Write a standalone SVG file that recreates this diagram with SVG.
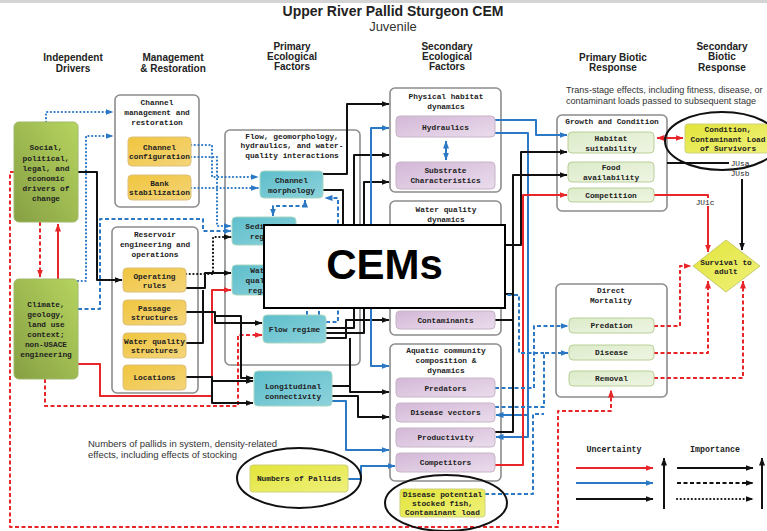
<svg xmlns="http://www.w3.org/2000/svg" width="767" height="531" viewBox="0 0 767 531">
<defs>
<linearGradient id="gG" x1="0" y1="1" x2="1" y2="0"><stop offset="0" stop-color="#86a043"/><stop offset="1" stop-color="#b6d45f"/></linearGradient>
<linearGradient id="gO" x1="0" y1="0" x2="1" y2="1"><stop offset="0" stop-color="#f0c53e"/><stop offset="1" stop-color="#f4d57a"/></linearGradient>
<linearGradient id="gT" x1="0" y1="0" x2="1" y2="1"><stop offset="0" stop-color="#5dbecb"/><stop offset="1" stop-color="#8dd2db"/></linearGradient>
<linearGradient id="gP" x1="0" y1="0" x2="1" y2="1"><stop offset="0" stop-color="#d3b8d7"/><stop offset="1" stop-color="#eadcec"/></linearGradient>
<linearGradient id="gL" x1="0" y1="0" x2="1" y2="1"><stop offset="0" stop-color="#dcebc9"/><stop offset="1" stop-color="#eef5e3"/></linearGradient>
<linearGradient id="gY" x1="0" y1="0" x2="1" y2="1"><stop offset="0" stop-color="#e2e43a"/><stop offset="1" stop-color="#eff17c"/></linearGradient>
<marker id="ak" viewBox="0 0 8 6" refX="7.5" refY="3" markerWidth="8" markerHeight="6" markerUnits="userSpaceOnUse" orient="auto-start-reverse"><path d="M0,0 L8,3 L0,6 z" fill="#111"/></marker>
<marker id="ab" viewBox="0 0 8 6" refX="7.5" refY="3" markerWidth="8" markerHeight="6" markerUnits="userSpaceOnUse" orient="auto-start-reverse"><path d="M0,0 L8,3 L0,6 z" fill="#2b78c5"/></marker>
<marker id="ar" viewBox="0 0 8 6" refX="7.5" refY="3" markerWidth="8" markerHeight="6" markerUnits="userSpaceOnUse" orient="auto-start-reverse"><path d="M0,0 L8,3 L0,6 z" fill="#e8262a"/></marker>
<style>
.c{fill:#fff;stroke:#8c8c8c;stroke-width:1.6}
.t{font-family:"Liberation Mono","DejaVu Sans Mono",monospace;font-size:7.8px;font-weight:bold;fill:#222;text-anchor:middle}
.h{font-family:"Liberation Sans",Arial,sans-serif;font-size:10px;font-weight:bold;fill:#222;text-anchor:middle}
.n{font-family:"Liberation Sans",Arial,sans-serif;font-size:9.5px;fill:#333}
.k{fill:none;stroke:#111;stroke-width:2;stroke-linejoin:round}
.b{fill:none;stroke:#2b78c5;stroke-width:2;stroke-linejoin:round}
.r{fill:none;stroke:#e8262a;stroke-width:2;stroke-linejoin:round}
.da{stroke-dasharray:4 2.5}
.do{stroke-dasharray:0.1 3.6;stroke-linecap:round;stroke-width:2.2}
.gr{fill:url(#gG);stroke:#9fb86a;stroke-width:1}
.or{fill:url(#gO);stroke:#dcc07a;stroke-width:1}
.te{fill:url(#gT);stroke:#a9d6c4;stroke-width:1}
.pu{fill:url(#gP);stroke:#c7b4c8;stroke-width:1}
.lg{fill:url(#gL);stroke:#b9cf98;stroke-width:1}
.ye{fill:url(#gY);stroke:#cfd27a;stroke-width:1}
.el{fill:none;stroke:#111;stroke-width:2}
</style>
</defs>
<rect width="767" height="531" fill="#fff"/>
<rect width="767" height="3" fill="#d4d4d4"/>

<!-- titles -->
<text x="393" y="16" style="font-family:'Liberation Sans',Arial,sans-serif;font-size:14px;font-weight:bold;fill:#222" text-anchor="middle">Upper River Pallid Sturgeon CEM</text>
<text x="393" y="31" style="font-family:'Liberation Sans',Arial,sans-serif;font-size:13px;fill:#333" text-anchor="middle">Juvenile</text>
<text class="h" x="73" y="61">Independent</text><text class="h" x="73" y="72">Drivers</text>
<text class="h" x="173" y="61">Management</text><text class="h" x="173" y="72">&amp; Restoration</text>
<text class="h" x="292" y="50">Primary</text><text class="h" x="292" y="60">Ecological</text><text class="h" x="292" y="70">Factors</text>
<text class="h" x="447" y="50">Secondary</text><text class="h" x="447" y="60">Ecological</text><text class="h" x="447" y="70">Factors</text>
<text class="h" x="613" y="61">Primary Biotic</text><text class="h" x="613" y="71">Response</text>
<text class="h" x="722" y="50">Secondary</text><text class="h" x="722" y="60">Biotic</text><text class="h" x="722" y="71">Response</text>
<text class="n" x="566" y="93" style="font-size:9.1px">Trans-stage effects, including fitness, disease, or</text>
<text class="n" x="566" y="104" style="font-size:9.1px">contaminant loads passed to subsequent stage</text>
<text class="n" x="88" y="447">Numbers of pallids in system, density-related</text>
<text class="n" x="88" y="458">effects, including effects of stocking</text>

<!-- containers -->
<g id="channel-management">
<rect class="c" x="115" y="95" width="84" height="112" rx="5"/>
<text class="t" x="157" y="105">Channel</text><text class="t" x="157" y="115">management and</text><text class="t" x="157" y="125">restoration</text>
</g>
<g id="reservoir">
<rect class="c" x="112" y="227" width="86" height="166" rx="5"/>
<text class="t" x="155" y="237">Reservoir</text><text class="t" x="155" y="247">engineering and</text><text class="t" x="155" y="257">operations</text>
</g>
<g id="flow-geomorphology">
<rect class="c" x="225" y="130" width="135" height="235" rx="5"/>
<text class="t" x="292" y="139">Flow, geomorphology,</text><text class="t" x="292" y="148">hydraulics, and water-</text><text class="t" x="292" y="158">quality interactions</text>
</g>
<g id="physical-habitat">
<rect class="c" x="390" y="88" width="111" height="104" rx="5"/>
<text class="t" x="446" y="99">Physical habitat</text><text class="t" x="446" y="109">dynamics</text>
</g>
<g id="water-quality-dynamics">
<rect class="c" x="390" y="201" width="111" height="134" rx="5"/>
<text class="t" x="446" y="212">Water quality</text><text class="t" x="446" y="222">dynamics</text>
</g>
<g id="aquatic-community">
<rect class="c" x="390" y="344" width="111" height="137" rx="5"/>
<text class="t" x="446" y="353">Aquatic community</text><text class="t" x="446" y="363">composition &amp;</text><text class="t" x="446" y="373">dynamics</text>
</g>
<g id="growth-condition">
<rect class="c" x="557" y="115" width="110" height="96" rx="5"/>
<text class="t" x="612" y="124">Growth and Condition</text>
</g>
<g id="direct-mortality">
<rect class="c" x="556" y="284" width="111" height="113" rx="5"/>
<text class="t" x="611" y="293">Direct</text><text class="t" x="611" y="303">Mortality</text>
</g>

<!-- connectors -->
<g id="connectors">
<path class="r da" d="M14 172 H10 V527 H558 V411 H611 V390" marker-end="url(#ar)"/>
<path class="r da" d="M40 222 V277" marker-end="url(#ar)"/>
<path class="r" d="M58 279 V224" marker-end="url(#ar)"/>
<path class="r da" d="M45 379 V406 H238 V335 H262" marker-end="url(#ar)"/>
<path class="r" d="M78 364 H100 V396 H212 V290 H231" marker-end="url(#ar)"/>
<path class="b do" d="M46 122 V112 H113" marker-end="url(#ab)"/>
<path class="b do" d="M78 281 H86 V136 H113" marker-end="url(#ab)"/>
<path class="b do" d="M191 145 H212 V177 H258" marker-end="url(#ab)"/>
<path class="b do" d="M191 157 H217 V226 H231" marker-end="url(#ab)"/>
<path class="b do" d="M191 188 H258" marker-end="url(#ab)"/>
<path class="b da" d="M78 309 H100 V219 H203 V231 H231" marker-end="url(#ab)"/>
<path class="b da" d="M273 216 V206 H305 V200" marker-start="url(#ab)" marker-end="url(#ab)"/>
<path class="b da" d="M326 322 H338 V198 H325" marker-end="url(#ab)"/>
<path class="b da" d="M307 315 V290"/>
<path class="b da" d="M319 315 V290"/>
<path class="k do" d="M186 274 H213 V237 H231" marker-end="url(#ak)"/>
<path class="k" d="M78 172 H97 V280 H122" marker-end="url(#ak)"/>
<path class="k" d="M186 288 H205 V273 H231" marker-end="url(#ak)"/>
<path class="k" d="M186 343 H203 V290"/>
<path class="k" d="M186 312 H215 V323 H262" marker-end="url(#ak)"/>
<path class="k" d="M215 316 H241 V378 H253" marker-end="url(#ak)"/>
<path class="k" d="M186 377 H212 V381 H253" marker-end="url(#ak)"/>
<path class="k" d="M212 381 V403 H253" marker-end="url(#ak)"/>
<path class="k" d="M323 174 H347 V104 H389" marker-end="url(#ak)"/>
<path class="k" d="M323 190 H343 V260"/>
<path class="k" d="M326 328 H354 V155 H389" marker-end="url(#ak)"/>
<path class="k" d="M326 333 H364 V182 H389" marker-end="url(#ak)"/>
<path class="k" d="M326 338 H346 V320 H389" marker-end="url(#ak)"/>
<path class="k" d="M332 386 H350 V392 H389" marker-end="url(#ak)"/>
<path class="k" d="M332 396 H358 V417 H389" marker-end="url(#ak)"/>
<path class="k" d="M350 388 V338"/>
<path class="b" d="M292 280 H371"/>
<path class="b" d="M371 319 V128 H389" marker-end="url(#ab)"/>
<path class="b" d="M371 300 V366 H389" marker-end="url(#ab)"/>
<path class="b" d="M332 401 H346 V450 H389" marker-end="url(#ab)"/>
<path class="b" d="M348 479 H361 V466 H395" marker-end="url(#ab)"/>
<path class="b" d="M446 141 V160" marker-start="url(#ab)" marker-end="url(#ab)"/>
<path class="b" d="M495 120 H536 V135 H567" marker-end="url(#ab)"/>
<path class="b" d="M495 133 H528 V437 H496" marker-end="url(#ab)"/>
<path class="b" d="M528 415 H496" marker-end="url(#ab)"/>
<path class="k" d="M495 432 H513 V175 H567" marker-end="url(#ak)"/>
<path class="k" d="M501 245 H521 V152 H567" marker-end="url(#ak)"/>
<path class="k" d="M501 294 H513"/>
<path class="k" d="M495 320 H513"/>
<path class="r" d="M495 465 H523 V195 H567" marker-end="url(#ar)"/>
<path class="b da" d="M495 388 H534 V326 H568" marker-end="url(#ab)"/>
<path class="b da" d="M495 407 H544 V353 H568" marker-end="url(#ab)"/>
<path class="b da" d="M485 494 H533 V414 H544"/>
<path class="b da" d="M501 295 H519 V353 H544"/>
<path class="r da" d="M654 326 H680 V266 H691" marker-end="url(#ar)"/>
<path class="r da" d="M654 353 H708 V281" marker-end="url(#ar)"/>
<path class="r da" d="M654 378 H743 V281" marker-end="url(#ar)"/>
<path class="r" d="M657 138 H683" marker-start="url(#ar)" marker-end="url(#ar)"/>
<path class="r" d="M654 195 H708 V198"/>
<path class="r" d="M708 206 V252" marker-end="url(#ar)"/>
<path class="k" d="M667 163 H729"/>
<path class="k" d="M742 179 V250" marker-end="url(#ak)"/>
</g>

<!-- nodes -->
<g id="social"><rect class="gr" x="14" y="122" width="64" height="100" rx="5"/>
<text class="t" x="46" y="150">Social,</text><text class="t" x="46" y="160.5">political,</text><text class="t" x="46" y="170.5">legal, and</text><text class="t" x="46" y="180.5">economic</text><text class="t" x="46" y="190.5">drivers of</text><text class="t" x="46" y="201">change</text></g>
<g id="climate"><rect class="gr" x="14" y="279" width="64" height="100" rx="5"/>
<text class="t" x="46" y="307">Climate,</text><text class="t" x="46" y="317">geology,</text><text class="t" x="46" y="327">land use</text><text class="t" x="46" y="337">context;</text><text class="t" x="46" y="347">non-USACE</text><text class="t" x="46" y="357">engineering</text></g>
<g id="channel-configuration"><rect class="or" x="128" y="137" width="63" height="29" rx="4"/><text class="t" x="159.5" y="150">Channel</text><text class="t" x="159.5" y="159">configuration</text></g>
<g id="bank-stabilization"><rect class="or" x="128" y="175" width="63" height="25" rx="4"/><text class="t" x="159.5" y="186">Bank</text><text class="t" x="159.5" y="195">stabilization</text></g>
<g id="operating-rules"><rect class="or" x="123" y="268" width="63" height="24" rx="4"/><text class="t" x="154.5" y="279">Operating</text><text class="t" x="154.5" y="288">rules</text></g>
<g id="passage-structures"><rect class="or" x="123" y="300" width="63" height="25" rx="4"/><text class="t" x="154.5" y="311">Passage</text><text class="t" x="154.5" y="320">structures</text></g>
<g id="water-quality-structures"><rect class="or" x="123" y="333" width="63" height="25" rx="4"/><text class="t" x="154.5" y="344">Water quality</text><text class="t" x="154.5" y="353">structures</text></g>
<g id="locations"><rect class="or" x="123" y="365" width="63" height="25" rx="4"/><text class="t" x="154.5" y="380">Locations</text></g>
<g id="channel-morphology"><rect class="te" x="260" y="171" width="63" height="27" rx="4"/><text class="t" x="291.5" y="183">Channel</text><text class="t" x="291.5" y="193">morphology</text></g>
<g id="sediment-regime"><rect class="te" x="232" y="217" width="64" height="28" rx="4"/><text class="t" x="264" y="229">Sediment</text><text class="t" x="264" y="239">regime</text></g>
<g id="water-quality-regime"><rect class="te" x="232" y="265" width="60" height="30" rx="4"/><text class="t" x="262" y="273">Water</text><text class="t" x="262" y="283">quality</text><text class="t" x="262" y="293">regime</text></g>
<g id="flow-regime"><rect class="te" x="263" y="315" width="63" height="28" rx="4"/><text class="t" x="294.5" y="332">Flow regime</text></g>
<g id="longitudinal-connectivity"><rect class="te" x="254" y="371" width="78" height="35" rx="4"/><text class="t" x="293" y="389">Longitudinal</text><text class="t" x="293" y="399">connectivity</text></g>
<g id="hydraulics"><rect class="pu" x="396" y="116" width="99" height="21" rx="4"/><text class="t" x="445.5" y="130">Hydraulics</text></g>
<g id="substrate"><rect class="pu" x="396" y="162" width="99" height="27" rx="4"/><text class="t" x="445.5" y="173">Substrate</text><text class="t" x="445.5" y="183">Characteristics</text></g>
<g id="contaminants"><rect class="pu" x="396" y="311" width="99" height="18" rx="4"/><text class="t" x="445.5" y="323">Contaminants</text></g>
<g id="predators"><rect class="pu" x="396" y="378" width="99" height="19" rx="4"/><text class="t" x="445.5" y="391">Predators</text></g>
<g id="disease-vectors"><rect class="pu" x="396" y="403" width="99" height="19" rx="4"/><text class="t" x="445.5" y="415">Disease vectors</text></g>
<g id="productivity"><rect class="pu" x="396" y="428" width="99" height="19" rx="4"/><text class="t" x="445.5" y="440">Productivity</text></g>
<g id="competitors"><rect class="pu" x="396" y="453" width="99" height="19" rx="4"/><text class="t" x="445.5" y="465">Competitors</text></g>
<g id="numbers-of-pallids"><rect class="ye" x="250" y="465" width="98" height="27" rx="3"/><text class="t" x="299" y="481">Numbers of Pallids</text><ellipse class="el" cx="299" cy="478" rx="62" ry="30"/></g>
<g id="disease-potential"><rect class="ye" x="400" y="489" width="85" height="28" rx="3"/><text class="t" x="442.5" y="497">Disease potential</text><text class="t" x="442.5" y="506">stocked fish,</text><text class="t" x="442.5" y="515">Contaminant load</text><ellipse class="el" cx="446" cy="503" rx="61" ry="28"/></g>
<g id="habitat-suitability"><rect class="lg" x="568" y="132" width="86" height="21" rx="4"/><text class="t" x="611" y="141">Habitat</text><text class="t" x="611" y="151">suitability</text></g>
<g id="food-availability"><rect class="lg" x="568" y="162" width="86" height="20" rx="4"/><text class="t" x="611" y="170">Food</text><text class="t" x="611" y="180">availability</text></g>
<g id="competition"><rect class="lg" x="568" y="188" width="86" height="14" rx="4"/><text class="t" x="611" y="198">Competition</text></g>
<g id="condition"><rect class="ye" x="685" y="124" width="84" height="29" rx="3"/><text class="t" x="728" y="132">Condition,</text><text class="t" x="728" y="141.5">Contaminant Load</text><text class="t" x="728" y="151">of Survivors</text><ellipse class="el" cx="722" cy="141" rx="57" ry="29"/></g>
<g id="predation"><rect class="lg" x="569" y="318" width="85" height="15" rx="4"/><text class="t" x="611.5" y="328">Predation</text></g>
<g id="disease"><rect class="lg" x="569" y="345" width="85" height="15" rx="4"/><text class="t" x="611.5" y="355">Disease</text></g>
<g id="removal"><rect class="lg" x="569" y="371" width="85" height="15" rx="4"/><text class="t" x="611.5" y="381">Removal</text></g>
<g id="survival"><polygon points="726,240 760,266 726,292 693,266" fill="url(#gY)" stroke="#c8cb6a" stroke-width="1"/><text class="t" x="726" y="265">Survival to</text><text class="t" x="726" y="274">adult</text></g>
<g id="labels">
<text class="t" x="740" y="166" style="font-weight:normal">JUsa</text>
<text class="t" x="740" y="176" style="font-weight:normal">JUsb</text>
<text class="t" x="705" y="205" style="font-weight:normal">JU1c</text>
</g>

<!-- legend -->
<g id="legend">
<text class="t" x="614" y="452" style="font-size:8.3px">Uncertainty</text>
<text class="t" x="715" y="452" style="font-size:8.3px">Importance</text>
<path class="r" d="M576 468 H653" marker-end="url(#ar)"/>
<path class="b" d="M576 483 H653" marker-end="url(#ab)"/>
<path class="k" d="M576 499 H653" marker-end="url(#ak)"/>
<path class="k" d="M664 509 V458" marker-end="url(#ak)"/>
<path class="k" d="M677 468 H753" marker-end="url(#ak)"/>
<path class="k da" d="M677 483 H753" marker-end="url(#ak)"/>
<path class="k do" d="M677 499 H753" marker-end="url(#ak)"/>
<path class="k" d="M762 509 V458" marker-end="url(#ak)"/>
</g>

<!-- CEMs overlay -->
<g id="cems-banner">
<rect x="264" y="225" width="241" height="83" fill="#fff" stroke="#000" stroke-width="2"/>
<text x="384.5" y="279" text-anchor="middle" style="font-family:'Liberation Sans',Arial,sans-serif;font-size:42px;font-weight:bold;fill:#000">CEMs</text>
</g>
</svg>
